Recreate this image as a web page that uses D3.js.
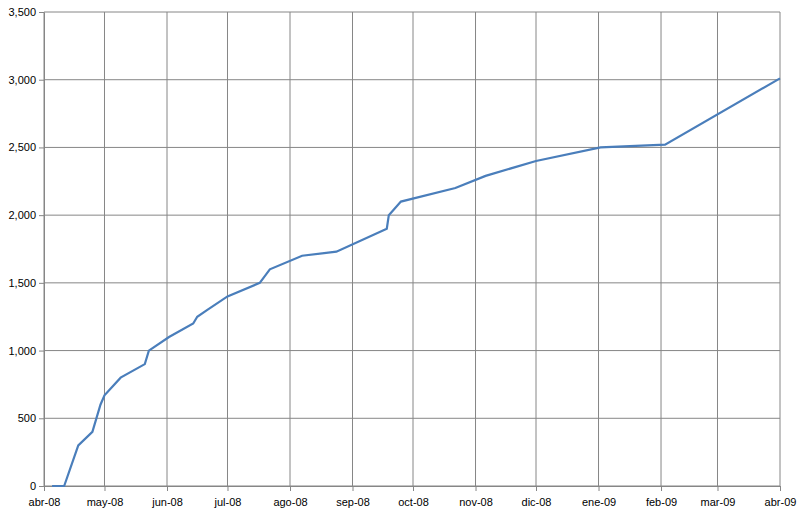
<!DOCTYPE html>
<html><head><meta charset="utf-8">
<script src="https://cdn.jsdelivr.net/npm/d3@7"></script>
<style>body{margin:0;background:#fff}text{font-family:"Liberation Sans",Arial,sans-serif;font-size:11px;fill:#000}</style>
</head><body><svg id="c" width="800" height="521"></svg>
<script>
const dates=["2008-04-05","2008-04-11","2008-04-18","2008-04-25","2008-04-29","2008-05-01","2008-05-09","2008-05-21","2008-05-23","2008-06-02","2008-06-14","2008-06-16","2008-06-21","2008-07-01","2008-07-17","2008-07-22","2008-08-07","2008-08-24","2008-09-18","2008-09-19","2008-09-25","2008-10-22","2008-11-06","2008-12-01","2009-01-02","2009-02-03","2009-04-01"];
const values=[0,0,300,400,600,670,800,900,1000,1100,1200,1250,1300,1400,1500,1600,1700,1730,1900,2000,2100,2200,2290,2400,2500,2520,3010];
const tickDates=["2008-04-01","2008-05-01","2008-06-01","2008-07-01","2008-08-01","2008-09-01","2008-10-01","2008-11-01","2008-12-01","2009-01-01","2009-02-01","2009-03-01","2009-04-01"];
const tickLabels=["abr-08","may-08","jun-08","jul-08","ago-08","sep-08","oct-08","nov-08","dic-08","ene-09","feb-09","mar-09","abr-09"];
const yTicks=[0,500,1000,1500,2000,2500,3000,3500];
const p=d3.timeParse("%Y-%m-%d");
const svg=d3.select("#c");
const L=44,R=780,T=12,B=486;
const x=d3.scaleTime().domain([p(tickDates[0]),p(tickDates[12])]).range([L,R]);
const y=d3.scaleLinear().domain([0,3500]).range([B,T]);
const g=svg.append("g");
g.selectAll(".h").data(yTicks).enter().append("line").attr("x1",L).attr("x2",R).attr("y1",d=>y(d)).attr("y2",d=>y(d)).attr("stroke","#868686");
g.selectAll(".v").data(tickDates).enter().append("line").attr("x1",d=>x(p(d))).attr("x2",d=>x(p(d))).attr("y1",T).attr("y2",B).attr("stroke","#868686");
const ya=svg.append("g").attr("transform",`translate(${L},0)`).call(d3.axisLeft(y).tickValues(yTicks).tickSize(5).tickSizeOuter(0));
const xa=svg.append("g").attr("transform",`translate(0,${B})`).call(d3.axisBottom(x).tickValues(tickDates.map(p)).tickFormat((d,i)=>tickLabels[i]).tickSize(5).tickSizeOuter(0));
[ya,xa].forEach(a=>{a.selectAll("path,line").attr("stroke","#868686");a.selectAll("text").style("font-size","11px").attr("fill","#000");});
xa.selectAll("text").attr("dy","1.1em");
svg.append("path").datum(dates.map((d,i)=>[p(d),values[i]])).attr("fill","none").attr("stroke","#4a7ebb").attr("stroke-width",2.2)
 .attr("d",d3.line().x(d=>x(d[0])).y(d=>y(d[1])));
</script></body></html>
